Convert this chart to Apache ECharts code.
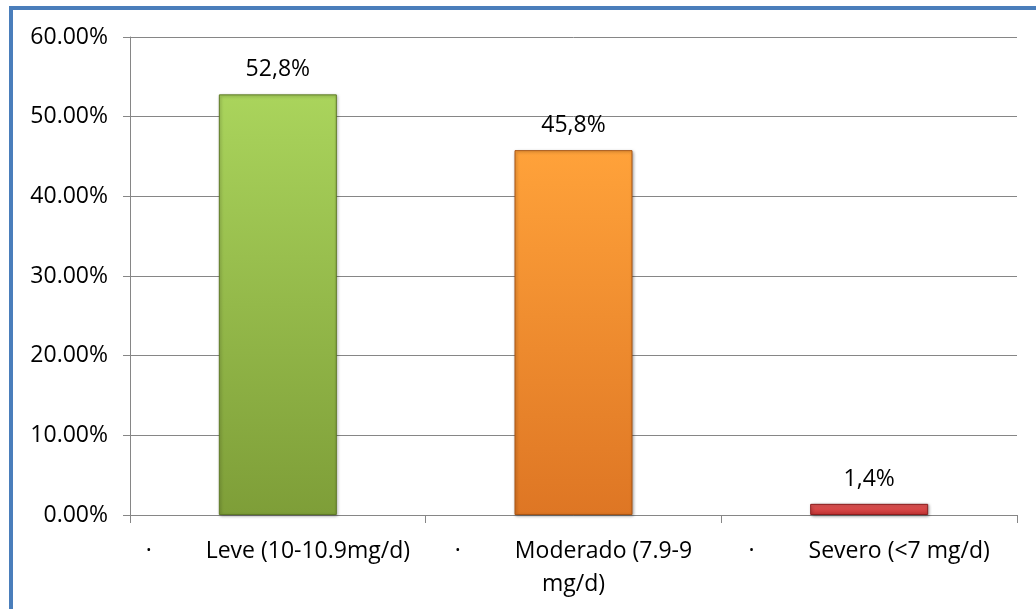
<!DOCTYPE html>
<html>
<head>
<meta charset="utf-8">
<script src="https://cdn.jsdelivr.net/npm/echarts@6/dist/echarts.min.js"></script>
<style>
  html, body { margin: 0; padding: 0; background: #fff; }
  #chart { width: 1036px; height: 609px; }
</style>
</head>
<body>
<div id="chart"></div>
<script>
// Categories and their percentages
const categories = ['Leve (10-10.9mg/d)', 'Moderado (7.9-9\nmg/d)', 'Severo (<7 mg/d)'];
const values = [52.8, 45.8, 1.4];
const valueLabels = ['52,8%', '45,8%', '1,4%'];
// Bar colours: [top, bottom, edge]
const barColors = [
  ['#AAD45C', '#7E9E38', '#5E7A26'],
  ['#FFA23A', '#DE7624', '#A85514'],
  ['#E85A5A', '#C23232', '#8C1E1E']
];

const FONT = '"Open Sans", sans-serif';
const FS = 23;
const chart = echarts.init(document.getElementById('chart'));

chart.setOption({
  animation: false,
  backgroundColor: '#fff',
  grid: { left: 130, right: 19, top: 37, bottom: 94, containLabel: false },
  graphic: [
    { type: 'rect', shape: { x: 9, y: 6, width: 4, height: 603 }, style: { fill: '#4A7EBB' }, silent: true },
    { type: 'rect', shape: { x: 9, y: 6, width: 1027, height: 4 }, style: { fill: '#4A7EBB' }, silent: true }
  ],
  xAxis: {
    type: 'category',
    data: categories,
    axisLine: { lineStyle: { color: '#868686', width: 1 } },
    axisTick: { show: true, length: 8, lineStyle: { color: '#868686' } },
    axisLabel: {
      interval: 0,
      margin: 20,
      color: '#000',
      fontFamily: FONT,
      fontSize: FS,
      lineHeight: 33,
      formatter: function (v) {
        const lines = v.split('\n');
        let s = '{b|·}{t|' + lines[0] + '}';
        for (let i = 1; i < lines.length; i++) s += '\n{t|' + lines[i] + '}';
        return s;
      },
      rich: {
        b: { width: 60, align: 'left', fontFamily: FONT, fontSize: FS, color: '#000', lineHeight: 33 },
        t: { fontFamily: FONT, fontSize: FS, color: '#000', lineHeight: 33 }
      }
    }
  },
  yAxis: {
    type: 'value',
    min: 0,
    max: 60,
    interval: 10,
    axisLine: { show: true, lineStyle: { color: '#868686', width: 1 } },
    axisTick: { show: true, length: 7, lineStyle: { color: '#868686' } },
    splitLine: { lineStyle: { color: '#868686', width: 1 } },
    axisLabel: {
      margin: 22,
      color: '#000',
      fontFamily: FONT,
      fontSize: FS,
      formatter: v => v.toFixed(2) + '%'
    }
  },
  series: [{
    type: 'bar',
    barWidth: 118,
    data: values.map((v, i) => ({
      value: v,
      itemStyle: {
        color: new echarts.graphic.LinearGradient(0, 0, 0, 1, [
          { offset: 0, color: barColors[i][0] },
          { offset: 1, color: barColors[i][1] }
        ]),
        borderColor: barColors[i][2],
        borderWidth: 1,
        shadowColor: 'rgba(0,0,0,0.35)',
        shadowBlur: 3,
        shadowOffsetX: 1,
        shadowOffsetY: 1
      }
    })),
    label: {
      show: true,
      position: 'top',
      distance: 13,
      color: '#000',
      fontFamily: FONT,
      fontSize: FS,
      formatter: p => valueLabels[p.dataIndex]
    }
  }]
});
</script>
</body>
</html>
